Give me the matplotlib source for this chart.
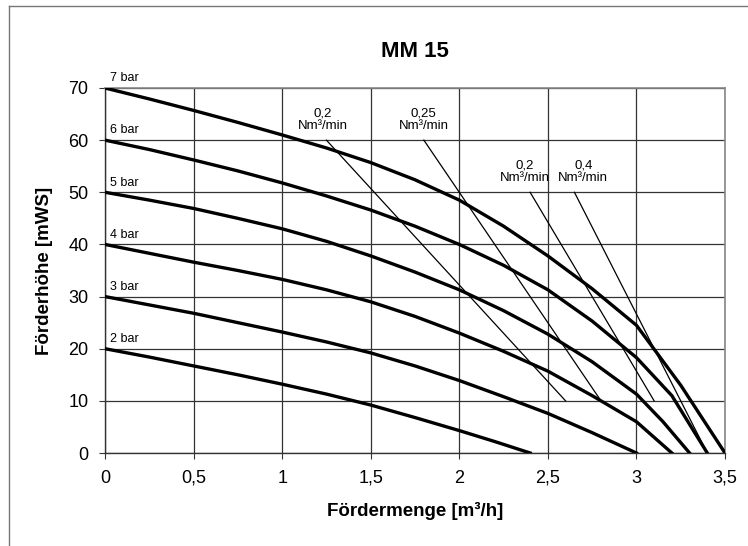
import matplotlib
matplotlib.use("Agg")
from matplotlib import pyplot as plt
from matplotlib.lines import Line2D

plt.rcParams["font.family"] = ["Liberation Sans", "DejaVu Sans"]

# pump curves: flow [m3/h] -> head [mWS], one per supply pressure
curve_labels = ["7 bar", "6 bar", "5 bar", "4 bar", "3 bar", "2 bar"]
curve_x = [
    [0, 0.25, 0.5, 0.75, 1, 1.25, 1.5, 1.75, 2, 2.25, 2.5, 2.75, 3, 3.25, 3.5],
    [0, 0.25, 0.5, 0.75, 1, 1.25, 1.5, 1.75, 2, 2.25, 2.5, 2.75, 3, 3.2, 3.4],
    [0, 0.25, 0.5, 0.75, 1, 1.25, 1.5, 1.75, 2, 2.25, 2.5, 2.75, 3, 3.15, 3.3],
    [0, 0.25, 0.5, 0.75, 1, 1.25, 1.5, 1.75, 2, 2.25, 2.5, 2.75, 3, 3.2],
    [0, 0.25, 0.5, 0.75, 1, 1.25, 1.5, 1.75, 2, 2.25, 2.5, 2.75, 3],
    [0, 0.25, 0.5, 0.75, 1, 1.25, 1.5, 1.75, 2, 2.2, 2.4],
]
curve_y = [
    [70, 67.9, 65.7, 63.4, 61, 58.5, 55.7, 52.4, 48.5, 43.5, 37.8, 31.5, 24.5, 13, 0],
    [60, 58.2, 56.2, 54.1, 51.8, 49.3, 46.6, 43.5, 40, 36, 31.3, 25.3, 18.3, 11, 0],
    [50, 48.5, 46.9, 45, 43, 40.6, 37.8, 34.7, 31.3, 27.3, 22.8, 17.5, 11.3, 6, 0],
    [40, 38.3, 36.6, 35, 33.3, 31.3, 29, 26.2, 23, 19.5, 15.7, 11, 6, 0],
    [30, 28.4, 26.8, 25, 23.2, 21.3, 19.2, 16.7, 13.9, 10.8, 7.6, 3.9, 0],
    [20, 18.4, 16.7, 15, 13.2, 11.3, 9.2, 6.8, 4.3, 2.2, 0],
]

# air consumption lines
air_labels = ["0,2\nNm³/min", "0,25\nNm³/min", "0,2\nNm³/min", "0,4\nNm³/min"]
air_x = [[1.25, 2.6], [1.8, 2.8], [2.4, 3.1], [2.65, 3.4]]
air_y = [[60, 10], [60, 10], [50, 10], [50, 0]]
air_label_x = [1.23, 1.8, 2.37, 2.7]
air_label_y = [64, 64, 54, 54]

x_ticks = [0, 0.5, 1, 1.5, 2, 2.5, 3, 3.5]
x_tick_labels = ["0", "0,5", "1", "1,5", "2", "2,5", "3", "3,5"]
y_ticks = [0, 10, 20, 30, 40, 50, 60, 70]

fig = plt.figure(figsize=(7.48, 5.46), dpi=100)
ax = fig.add_axes([105 / 748, 1 - 453 / 546, 620 / 748, 365 / 546])

ax.set_xlim(0, 3.5)
ax.set_ylim(0, 70)
ax.set_xticks(x_ticks)
ax.set_xticklabels(x_tick_labels)
ax.set_yticks(y_ticks)
ax.tick_params(direction="out", length=4, width=0.8, color="#333333", labelsize=13, pad=8)
ax.grid(True, color="#333333", linewidth=0.9)
ax.set_axisbelow(True)

for side in ["top", "right"]:
    ax.spines[side].set_color("#888888")
    ax.spines[side].set_linewidth(1.2)
for side in ["left", "bottom"]:
    ax.spines[side].set_color("#333333")
    ax.spines[side].set_linewidth(1.0)

for xs, ys, lab in zip(curve_x, curve_y, curve_labels):
    ax.plot(xs, ys, color="black", linewidth=2.4, solid_joinstyle="round", zorder=3)
    ax.text(0.03, ys[0] + 1.3, lab, fontsize=9, ha="left", va="baseline")

for xs, ys, lab, lx, ly in zip(air_x, air_y, air_labels, air_label_x, air_label_y):
    ax.plot(xs, ys, color="black", linewidth=0.9, zorder=3)
    ax.text(lx, ly, lab, fontsize=9.5, ha="center", va="center", linespacing=1.05)

ax.set_title("MM 15", fontsize=16, fontweight="bold", pad=22)
ax.set_xlabel("Fördermenge [m³/h]", fontsize=13.5, fontweight="bold", labelpad=11)
ax.set_ylabel("Förderhöhe [mWS]", fontsize=13.5, fontweight="bold", labelpad=11)

# outer frame, partly cut off at right and bottom
fig.add_artist(Line2D([9 / 748, 1], [1 - 6 / 546] * 2, color="#777777", linewidth=1))
fig.add_artist(Line2D([9 / 748] * 2, [0, 1 - 6 / 546], color="#777777", linewidth=1))

fig.savefig("out.png", dpi=100)
plt.close(fig)
